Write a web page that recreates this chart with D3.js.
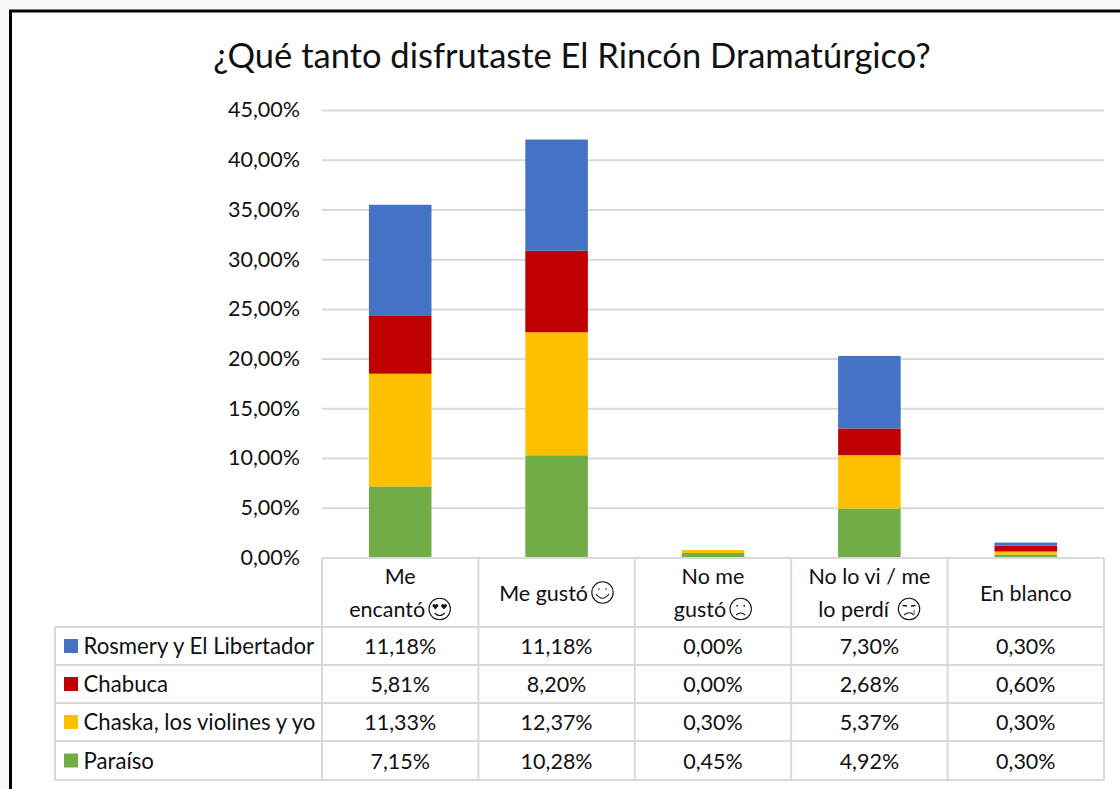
<!DOCTYPE html>
<html>
<head>
<meta charset="utf-8">
<script src="https://cdn.jsdelivr.net/npm/d3@7"></script>
<style>
html, body { margin: 0; padding: 0; background: #f8f8f8; overflow: hidden; }
svg { display: block; }
text { font-family: Lato, "Open Sans", sans-serif; fill: #111; }
</style>
</head>
<body>
<svg id="chart" width="1120" height="789"></svg>
<script>
var categories = ['Me encantó', 'Me gustó', 'No me gustó', 'No lo vi / me lo perdí', 'En blanco'];
var categoryLines = [['Me', 'encantó'], ['Me gustó'], ['No me', 'gustó'], ['No lo vi / me', 'lo perdí '], ['En blanco']];
var categoryFaces = ['love', 'smile', 'worried', 'cry', null];
var seriesNames = ['Paraíso', 'Chaska, los violines y yo', 'Chabuca', 'Rosmery y El Libertador'];
var seriesColors = ['#70ad47', '#ffc000', '#c00000', '#4472c4'];
var paraiso = [7.15, 10.28, 0.45, 4.92, 0.30];
var chaska = [11.33, 12.37, 0.30, 5.37, 0.30];
var chabuca = [5.81, 8.20, 0.00, 2.68, 0.60];
var rosmery = [11.18, 11.18, 0.00, 7.30, 0.30];
var yTicks = [0, 5, 10, 15, 20, 25, 30, 35, 40, 45];

var seriesValues = [paraiso, chaska, chabuca, rosmery];
var rows = categories.map(function(c, i) {
    var row = { category: c };
    seriesNames.forEach(function(s, j) { row[s] = seriesValues[j][i]; });
    return row;
});

var svg = d3.select('#chart');
var plotLeft = 322, plotRight = 1104, plotTop = 110, plotBottom = 557.5;
var tableLeft = 55;
var rowY = [558, 627, 665, 703, 741, 780];
var gridColor = '#d9d9d9';
var labelSize = '21.5px';

var locale = d3.formatLocale({ decimal: ',', thousands: '.', grouping: [3], currency: ['', '%'] });
var fmt = function(v) { return locale.format('.2f')(v) + '%'; };

var x = d3.scaleBand().domain(categories).range([plotLeft, plotRight]).paddingInner(0.6).paddingOuter(0.3);
var y = d3.scaleLinear().domain([0, 45]).range([plotBottom, plotTop]);
var columnX = d3.scaleLinear().domain([0, categories.length]).range([plotLeft, plotRight]);

// fondo y marco negro
svg.append('rect').attr('x', 10).attr('y', 11).attr('width', 1110).attr('height', 778).attr('fill', '#fff');
svg.append('path').attr('d', 'M10.5,789V11H1120').attr('fill', 'none').attr('stroke', '#000').attr('stroke-width', 3);

svg.append('text').attr('x', 572).attr('y', 68).attr('text-anchor', 'middle')
    .style('font-size', '34.5px').text('¿Qué tanto disfrutaste El Rincón Dramatúrgico?');

// eje y + rejilla
var yAxis = d3.axisLeft(y).tickValues(yTicks).tickFormat(fmt).tickSize(-(plotRight - plotLeft)).tickPadding(22);
var gy = svg.append('g').attr('transform', 'translate(' + plotLeft + ',0)').call(yAxis);
gy.select('.domain').remove();
gy.selectAll('.tick line').attr('stroke', gridColor).attr('stroke-width', 2);
gy.selectAll('.tick text').style('font-size', labelSize).style('fill', '#111');

// barras apiladas
var stack = d3.stack().keys(seriesNames)(rows);
svg.append('g').selectAll('g').data(stack).join('g')
    .attr('fill', function(d, i) { return seriesColors[i]; })
    .selectAll('rect').data(function(d) { return d; }).join('rect')
    .attr('x', function(d) { return x(d.data.category); })
    .attr('width', x.bandwidth())
    .attr('y', function(d) { return y(d[1]); })
    .attr('height', function(d) { return y(d[0]) - y(d[1]); });

// tabla de datos
var table = svg.append('g').attr('stroke', gridColor).attr('stroke-width', 2);
rowY.forEach(function(ry, i) {
    table.append('line').attr('x1', i === 0 ? plotLeft : tableLeft).attr('x2', plotRight).attr('y1', ry).attr('y2', ry);
});
d3.range(categories.length + 1).forEach(function(i) {
    table.append('line').attr('x1', columnX(i)).attr('x2', columnX(i)).attr('y1', rowY[0]).attr('y2', rowY[5]);
});
table.append('line').attr('x1', tableLeft).attr('x2', tableLeft).attr('y1', rowY[1]).attr('y2', rowY[5]);

// caritas
function drawFace(g, kind, cx, cy) {
    var r = 10.7;
    var f = g.append('g').attr('transform', 'translate(' + cx + ',' + cy + ')')
        .attr('fill', 'none').attr('stroke', '#111').attr('stroke-width', 1.1);
    f.append('circle').attr('r', r);
    if (kind === 'smile') {
        f.append('path').attr('d', 'M-6.5,1.5Q0,10 6.5,1.5');
        f.append('path').attr('d', 'M-3.5,-4v1M3.5,-4v1').attr('stroke-width', 1.6);
    }
    if (kind === 'love') {
        f.append('path').attr('d', 'M-5,4Q0,9 5,4');
        [-4.3, 4.3].forEach(function(dx) {
            f.append('path').attr('transform', 'translate(' + dx + ',-2.5)')
                .attr('d', 'M0,3L-3,-0.5A1.6,1.6 0 0 1 0,-1.5A1.6,1.6 0 0 1 3,-0.5Z')
                .attr('fill', '#111').attr('stroke', 'none');
        });
    }
    if (kind === 'worried') {
        f.append('path').attr('d', 'M-4.5,6Q0,2 4.5,6');
        f.append('path').attr('d', 'M-3.5,-4v1.5M3.5,-4v1.5').attr('stroke-width', 1.6);
    }
    if (kind === 'cry') {
        f.append('path').attr('d', 'M-5,6Q0,1.5 5,6');
        f.append('path').attr('d', 'M-6.5,-3.5L-2,-3M6.5,-3.5L2,-3').attr('stroke-width', 1.6);
        f.append('path').attr('d', 'M5,1Q7,4.5 5,6Q3.2,4.5 5,1Z').attr('stroke', '#888').attr('stroke-width', 0.8);
    }
}

// etiquetas de categoria
categories.forEach(function(c, i) {
    var lines = categoryLines[i];
    var midX = (columnX(i) + columnX(i + 1)) / 2;
    var midY = (rowY[0] + rowY[1]) / 2;
    lines.forEach(function(line, k) {
        var ly = midY + 8 + (k - (lines.length - 1) / 2) * 33;
        var t = svg.append('text').attr('y', ly).attr('text-anchor', 'start')
            .attr('xml:space', 'preserve').style('white-space', 'pre').style('font-size', labelSize).text(line);
        var w = t.node().getComputedTextLength();
        var last = k === lines.length - 1 && categoryFaces[i];
        var total = w + (last ? 26 : 0);
        t.attr('x', midX - total / 2);
        if (last) drawFace(svg, categoryFaces[i], midX - total / 2 + w + 14.5, ly - 8);
    });
});

// filas de la tabla, de arriba a abajo: orden inverso a la pila
seriesNames.slice().reverse().forEach(function(name, r) {
    var si = seriesNames.length - 1 - r;
    var midY = (rowY[r + 1] + rowY[r + 2]) / 2;
    svg.append('rect').attr('x', 64).attr('y', midY - 7).attr('width', 14).attr('height', 14).attr('fill', seriesColors[si]);
    svg.append('text').attr('x', 83.5).attr('y', midY + 8).style('font-size', '22.2px').text(name);
    seriesValues[si].forEach(function(v, i) {
        svg.append('text').attr('x', (columnX(i) + columnX(i + 1)) / 2).attr('y', midY + 8)
            .attr('text-anchor', 'middle').style('font-size', labelSize).text(fmt(v));
    });
});
</script>
</body>
</html>
